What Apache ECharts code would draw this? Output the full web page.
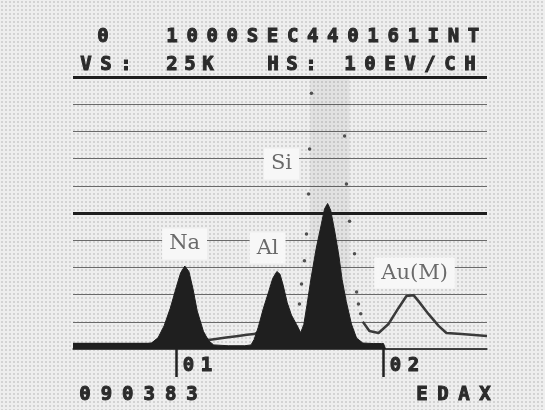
<!DOCTYPE html>
<html><head><meta charset="utf-8">
<script src="https://cdn.jsdelivr.net/npm/echarts@6/dist/echarts.min.js"></script>
<style>
html,body{margin:0;padding:0;width:545px;height:410px;overflow:hidden;background-color:#eeeeee;background-image:radial-gradient(circle,#d3d3d3 0.9px,transparent 1.4px);background-size:4px 4px;}
#c{width:545px;height:410px;}
</style>
</head><body><div id="c"></div>
<script>
// ---- data (energy in keV, counts in vertical-scale divisions; full scale 10 div = 25K) ----
const fillEnergy = [0.50,0.60,0.70,0.80,0.86,0.88,0.91,0.94,0.97,1.00,1.02,1.04,1.06,1.08,1.10,1.13,1.155,1.18,1.25,1.33,1.36,1.375,1.395,1.42,1.445,1.465,1.485,1.50,1.515,1.535,1.555,1.58,1.60,1.615,1.63,1.65,1.675,1.70,1.715,1.73,1.745,1.765,1.785,1.80,1.82,1.845,1.87,1.90,1.95,1.99,2.00,2.01,2.50];
const fillCounts = [0.20,0.20,0.20,0.20,0.20,0.22,0.40,0.85,1.50,2.30,2.80,3.05,2.85,2.20,1.40,0.65,0.30,0.15,0.12,0.12,0.15,0.35,0.80,1.50,2.10,2.60,2.85,2.75,2.35,1.70,1.25,0.90,0.60,0.90,1.60,2.60,3.70,4.60,5.15,5.35,5.10,4.30,3.40,2.55,1.75,0.92,0.40,0.22,0.20,0.20,0.20,0.00,0.00];

const refEnergyLow = [0.50,0.88,0.95,1.04,1.12,1.155,1.19,1.24,1.29,1.34,1.375,1.42,1.48,1.54,1.58];
const refCountsLow = [0.18,0.18,0.60,1.80,0.50,0.33,0.37,0.42,0.47,0.52,0.55,0.70,1.60,1.00,0.75];

const refEnergySi = [1.594,1.604,1.618,1.628,1.638,1.643,1.652,1.67,1.70,1.73,1.76,1.79,1.812,1.821,1.836,1.860,1.870,1.879,1.890];
const refCountsSi = [1.65,2.39,3.24,4.23,5.70,7.35,9.40,14,20,24,20,13,7.83,6.07,4.70,3.50,2.10,1.65,1.30];

const refEnergyHigh = [1.90,1.932,1.976,2.024,2.072,2.111,2.145,2.169,2.217,2.266,2.304,2.377,2.50];
const refCountsHigh = [1.00,0.66,0.59,0.92,1.50,1.95,1.98,1.76,1.29,0.85,0.59,0.55,0.48];

const peakNames  = ['Na','Al','Si','Au(M)'];
const peakEnergy = [1.039,1.44,1.507,2.15];
const peakLevel  = [3.86,3.71,6.80,2.79];

const xTickValues = [1,2];
const xTickTexts  = ['01','02'];
const thickLevels = [5,10];

const headerTexts = ['0','1000SEC440161INT','VS:','25K','HS:','10EV/CH','090383','EDAX'];

// ---- layout ----
const headerLayout = [
  {x:103,y:37,p:20},{x:172,y:37,p:20.1},
  {x:86,y:65,p:20},{x:172,y:65,p:18},{x:273,y:65,p:19},{x:350,y:65,p:20},
  {x:85,y:395,p:21.4},{x:422,y:395,p:21}
];

const chart = echarts.init(document.getElementById('c'), null, {renderer:'canvas'});
const zip = (a,b)=>a.map((v,i)=>[v,b[i]]);
const monoFont = 'bold 19px "DejaVu Sans Mono"';

chart.setOption({
  backgroundColor:'transparent',
  animation:false,
  grid:{left:73,right:58,top:77,bottom:61},
  xAxis:{type:'value',min:0.5,max:2.5,
    splitLine:{show:false},
    axisLine:{show:true,lineStyle:{color:'#3a3a3a',width:1.5}},
    axisTick:{show:true,customValues:xTickValues,length:28,lineStyle:{color:'#222',width:2.5}},
    axisLabel:{show:false}},
  yAxis:{type:'value',min:0,max:10,interval:1,
    axisLine:{show:false},axisTick:{show:false},axisLabel:{show:false},
    splitLine:{show:true,lineStyle:{color:'#6a6a6a',width:1}}},
  series:[
    {type:'line',name:'ref-low',data:zip(refEnergyLow,refCountsLow),showSymbol:false,
     lineStyle:{color:'#3a3a3a',width:2.5},z:2,
     markArea:{silent:true,itemStyle:{color:'rgba(0,0,0,0.05)'},data:[[{xAxis:1.645},{xAxis:1.835}]]}},
    {type:'scatter',name:'ref-si',data:zip(refEnergySi,refCountsSi),symbolSize:3.5,
     itemStyle:{color:'#2a2a2a'},z:2},
    {type:'line',name:'ref-high',data:zip(refEnergyHigh,refCountsHigh),showSymbol:false,
     lineStyle:{color:'#3a3a3a',width:2.5},z:2},
    {type:'line',name:'spectrum',data:zip(fillEnergy,fillCounts),showSymbol:false,
     lineStyle:{color:'#1f1f1f',width:1},areaStyle:{color:'#1f1f1f',opacity:1},z:3,
     markLine:{silent:true,symbol:'none',label:{show:false},
       lineStyle:{color:'#1e1e1e',width:3,type:'solid'},
       data:thickLevels.map(v=>({yAxis:v}))},
     markPoint:{symbol:'rect',symbolSize:1,itemStyle:{color:'transparent'},
       label:{show:true,position:'inside',formatter:'{b}',fontFamily:'"DejaVu Serif"',fontSize:21,
         color:'#6a6a6a',backgroundColor:'#f7f7f7',padding:[5,7]},
       data:peakNames.map((n,i)=>({name:n,coord:[peakEnergy[i],peakLevel[i]]}))}}
  ]
});

// dot-matrix style texts, one character per cell
const g = [];
function addChars(str,x,y,p){
  for(let i=0;i<str.length;i++){
    if(str[i]===' ') continue;
    g.push({type:'text',x:x+i*p,y:y,style:{text:str[i],font:monoFont,fill:'#2b2b2b',stroke:'#2b2b2b',lineWidth:1,align:'center',verticalAlign:'middle'}});
  }
}
headerTexts.forEach((t,i)=>addChars(t,headerLayout[i].x,headerLayout[i].y,headerLayout[i].p));
xTickValues.forEach((v,i)=>{
  const px = chart.convertToPixel({xAxisIndex:0},v);
  addChars(xTickTexts[i],px+12,366,18);
});
chart.setOption({graphic:{elements:g}});
</script>
</body></html>
